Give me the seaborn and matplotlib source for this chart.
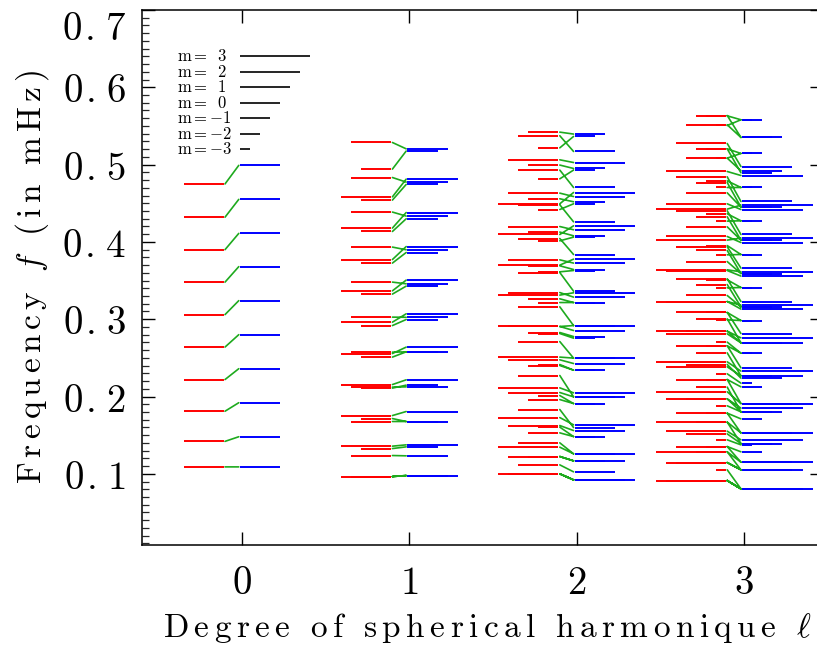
import numpy as np
import matplotlib
matplotlib.use('Agg')
import matplotlib.pyplot as plt
import seaborn as sns
from matplotlib.ticker import MultipleLocator, FixedLocator, FuncFormatter

nan = np.nan

degrees = [0, 1, 2, 3]
freq_ticks = [0.1, 0.2, 0.3, 0.4, 0.5, 0.6, 0.7]

# frequencies in mHz, one row per azimuthal order m = -l..l, radial orders ascending
red_l0 = [[0.109, 0.142, 0.181, 0.222, 0.264, 0.306, 0.348, 0.390, 0.432, 0.475]]
blue_l0 = [[0.109, 0.148, 0.192, 0.236, 0.280, 0.324, 0.368, 0.411, 0.455, 0.499]]

red_l1 = [
    [0.0965, 0.1327, 0.1715, 0.2109, 0.2510, 0.2918, 0.3325, 0.3726, 0.4135, 0.4541, 0.4942],
    [0.0965, 0.1237, 0.1677, 0.2122, 0.2574, 0.3027, 0.3480, 0.3933, 0.4386, 0.4833, 0.5286],
    [0.0965, 0.1358, 0.1754, 0.2155, 0.2556, 0.2962, 0.3367, 0.3772, 0.4179, 0.4583, nan],
]
blue_l1 = [
    [0.0978, 0.1349, 0.1677, 0.2147, 0.2578, 0.2996, 0.3428, 0.3863, 0.4299, 0.4743, 0.5175],
    [0.0978, 0.1233, 0.1677, 0.2125, 0.2578, 0.3025, 0.3458, 0.3898, 0.4334, 0.4774, 0.5204],
    [0.0978, 0.1375, 0.1806, 0.2216, 0.2639, 0.3070, 0.3506, 0.3940, 0.4380, 0.4812, nan],
]

red_l2 = [
    [0.100, 0.1224, 0.1604, 0.2013, 0.2414, 0.2815, 0.3216, 0.3613, 0.4014, 0.4419, 0.4816, 0.5217],
    [0.100, 0.1224, 0.1530, 0.1961, 0.2401, 0.2828, 0.3264, 0.3691, 0.4127, 0.4558, 0.4994, 0.5420],
    [0.100, 0.1116, 0.1401, 0.1832, 0.2272, 0.2711, 0.3160, 0.3604, 0.4044, 0.4480, 0.4929, 0.5373],
    [0.100, 0.1224, 0.1625, 0.2052, 0.2475, 0.2906, 0.3345, 0.3768, 0.4199, 0.4631, 0.5062, nan],
    [0.100, 0.1345, 0.1728, 0.2112, 0.2510, 0.2906, 0.3312, 0.3700, 0.4096, 0.4493, nan, nan],
]
blue_l2 = [
    [0.0922, 0.1168, 0.1482, 0.1909, 0.2341, 0.2755, 0.3216, 0.3630, 0.4062, 0.4493, 0.4929, 0.5364],
    [0.0922, 0.1168, 0.1482, 0.1909, 0.2341, 0.2776, 0.3216, 0.3643, 0.4079, 0.4519, 0.4950, 0.5395],
    [0.0922, 0.1026, 0.1259, 0.1599, 0.1996, 0.2497, 0.2918, 0.3363, 0.3837, 0.4260, 0.4704, 0.5170],
    [0.0922, 0.1168, 0.1560, 0.1996, 0.2427, 0.2854, 0.3286, 0.3726, 0.4157, 0.4587, 0.5027, nan],
    [0.0922, 0.1259, 0.1634, 0.2048, 0.2497, 0.2918, 0.3342, 0.3777, 0.4208, 0.4639, nan, nan],
]

red_l3 = [
    [0.1052, 0.1440, 0.1880, 0.2294, 0.2704, 0.2992, 0.3406, 0.3833, 0.4269, 0.4704, 0.5084, 0.5506],
    [0.0913, 0.1353, 0.1785, 0.2220, 0.2656, 0.3087, 0.3510, 0.3953, 0.4364, 0.4790, 0.5204, 0.5631],
    [0.0913, 0.1285, 0.1669, 0.2122, 0.2565, 0.3005, 0.3449, 0.3889, 0.4325, 0.4768, 0.5204, 0.5635],
    [0.0913, 0.1146, 0.1517, 0.1970, 0.2414, 0.2846, 0.3307, 0.3746, 0.4195, 0.4635, 0.5084, 0.5515],
    [0.0913, 0.1146, 0.1353, 0.1785, 0.2220, 0.2656, 0.3087, 0.3523, 0.3937, 0.4402, 0.4842, 0.5273],
    [0.0913, 0.1146, 0.1552, 0.1970, 0.2384, 0.2811, 0.3229, 0.3630, 0.4070, 0.4493, 0.4911, nan],
    [0.0913, 0.1285, 0.1669, 0.2061, 0.2449, 0.2846, 0.3229, 0.3639, 0.4023, 0.4424, nan, nan],
]
blue_l3 = [
    [0.0806, 0.1375, 0.1802, 0.2173, 0.2561, 0.2983, 0.3410, 0.3837, 0.4273, 0.4704, 0.5144, 0.5580],
    [0.0806, 0.1285, 0.1711, 0.2125, 0.2561, 0.2983, 0.3410, 0.3837, 0.4273, 0.4704, 0.5144, 0.5580],
    [0.0806, 0.1052, 0.1392, 0.1802, 0.2268, 0.2695, 0.3160, 0.3591, 0.4023, 0.4450, 0.4894, 0.5351],
    [0.0806, 0.1052, 0.1392, 0.1802, 0.2238, 0.2695, 0.3160, 0.3591, 0.4023, 0.4450, 0.4920, 0.5351],
    [0.0806, 0.1052, 0.1151, 0.1530, 0.1909, 0.2371, 0.2815, 0.3229, 0.3661, 0.4096, 0.4523, 0.4975],
    [0.0806, 0.1052, 0.1440, 0.1850, 0.2268, 0.2695, 0.3131, 0.3558, 0.3992, 0.4419, 0.4859, nan],
    [0.0806, 0.1151, 0.1530, 0.1909, 0.2329, 0.2759, 0.3182, 0.3613, 0.4049, 0.4476, nan, nan],
]

reds = [red_l0, red_l1, red_l2, red_l3]
blues = [blue_l0, blue_l1, blue_l2, blue_l3]
legend_m = [3, 2, 1, 0, -1, -2, -3]

# segment geometry (data units along the degree axis)
UNIT = 0.06          # length step per m
RED_END = -0.11      # red levels end left of the degree
BLUE_START = -0.012  # blue levels start at the degree


def spaced(*pieces, gap=0.1667):
    # IDL-like letter spacing: every glyph separated by a small math space
    toks = []
    for p in pieces:
        if p.startswith('$'):
            toks.append(p.strip('$'))
        else:
            toks += [r'\ ' if c == ' ' else r'\mathrm{%s}' % c for c in p]
    return '$' + (r'\hspace{%g}' % gap).join(toks) + '$'


sns.set_theme(style='ticks')
plt.rcParams['mathtext.fontset'] = 'cm'
plt.rcParams['axes.linewidth'] = 1.1

fig = plt.figure(figsize=(8.17, 6.48), dpi=100)
ax = fig.add_axes([0.1734, 0.159, 0.8339, 0.8256])

gx, gy = [], []
for l, red, blue in zip(degrees, reds, blues):
    for m, rrow, brow in zip(range(-l, l + 1), red, blue):
        length = (m + 4) * UNIT
        rr = np.array(rrow)
        bb = np.array(brow)
        ok = ~np.isnan(rr) & ~np.isnan(bb)
        ax.hlines(rr[ok], l + RED_END - length, l + RED_END, color='#ff0000', lw=1.4)
        ax.hlines(bb[ok], l + BLUE_START, l + BLUE_START + length, color='#0000ff', lw=1.4)
        for a, b in zip(rr[ok], bb[ok]):
            gx += [l + RED_END + 0.008, l + BLUE_START - 0.008, nan]
            gy += [a, b, nan]
ax.plot(gx, gy, color='#1eaa1e', lw=1.2)

# m legend: black bars whose length encodes m, labels left-aligned
for i, m in enumerate(legend_m):
    yy = 0.64 - 0.02 * i
    ax.hlines(yy, BLUE_START, BLUE_START + (m + 4) * UNIT, color='black', lw=1.2)
    if m >= 0:
        lab = r'$\mathrm{m}=\hspace{0.55}%d$' % m
    else:
        lab = r'$\mathrm{m}={-}%d$' % (-m)
    ax.text(-0.391, yy, lab, ha='left', va='center', fontsize=12, color='black')

ax.set_xlim(-0.6, 3.47)
ax.set_ylim(0.008, 0.7)
ax.xaxis.set_major_locator(FixedLocator(degrees))
ax.yaxis.set_major_locator(FixedLocator(freq_ticks))
ax.yaxis.set_minor_locator(MultipleLocator(0.01))
ax.xaxis.set_major_formatter(FuncFormatter(lambda v, p: spaced('%d' % round(v))))
ax.yaxis.set_major_formatter(FuncFormatter(lambda v, p: spaced('%.1f' % v, gap=0.1)))
ax.tick_params(axis='both', which='major', direction='in', length=9.5, width=1.0,
               top=True, right=True, labelsize=28, colors='black')
ax.tick_params(axis='y', which='minor', direction='in', length=5, width=0.9, right=False)
ax.tick_params(axis='x', which='major', pad=14)
ax.tick_params(axis='y', which='major', pad=11)
for s in ax.spines.values():
    s.set_color('black')

# the top label sits below its tick so that it stays inside the figure
ax.yaxis.get_major_ticks()[-1].label1.set_verticalalignment('top')

ax.set_xlabel(spaced('Degree of spherical harmonique ', r'$\ell$', gap=0.186),
              fontsize=24, color='black')
ax.set_ylabel(spaced('Frequency ', '$f$', ' (in mHz)', gap=0.176),
              fontsize=24, color='black')
ax.xaxis.set_label_coords(0.507, -0.155)
ax.xaxis.label.set_va('center')
ax.yaxis.set_label_coords(-0.161, 0.501)
ax.yaxis.label.set_va('center')

fig.savefig('out.png', dpi=100)
